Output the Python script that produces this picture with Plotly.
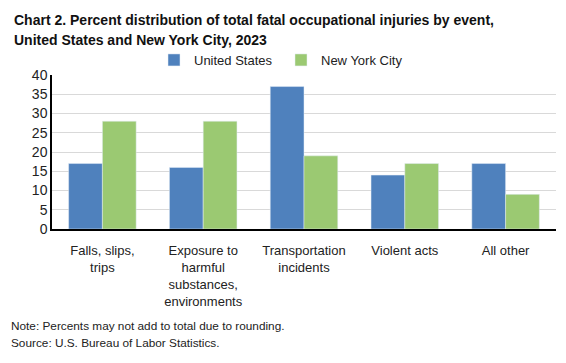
import plotly.graph_objects as go

categories = ["Falls, slips,<br>trips", "Exposure to<br>harmful<br>substances,<br>environments",
              "Transportation<br>incidents", "Violent acts", "All other"]
us_values = [17, 16, 37, 14, 17]
nyc_values = [28, 28, 19, 17, 9]
y_ticks = [0, 5, 10, 15, 20, 25, 30, 35, 40]

FONT = "Liberation Sans"

# page has an 8px body margin; plot area should sit at page x 52..556, y 75..229
def px(x):
    return (x - 52) / 504.0

def py(y):
    return (229 - y) / 154.0

fig = go.Figure()
fig.add_trace(go.Bar(x=categories, y=us_values, name="United States", marker_color="#4f81bd"))
fig.add_trace(go.Bar(x=categories, y=nyc_values, name="New York City", marker_color="#9bc972"))

fig.update_layout(
    width=558, height=355,
    margin=dict(l=44, r=10, t=67, b=134),
    paper_bgcolor="white", plot_bgcolor="white",
    font=dict(family=FONT, size=13, color="#222"),
    barmode="group", bargap=0.33, bargroupgap=0,
    showlegend=True,
    legend=dict(orientation="h", x=px(154), xanchor="left", y=py(60), yanchor="middle",
                font=dict(size=13, color="#222"), itemwidth=30, tracegroupgap=0,
                entrywidth=82),
    xaxis=dict(showline=True, linecolor="black", linewidth=1.5, ticks="",
               tickfont=dict(size=13, color="#222"), fixedrange=True,
               ticklabelstandoff=9),
    yaxis=dict(range=[0, 40], tickvals=y_ticks, showline=True, linecolor="black",
               linewidth=1.5, gridcolor="#d9d9d9", gridwidth=1, ticks="",
               tickfont=dict(size=14, color="#222"), zeroline=False),
)

title_lines = ["<b>Chart 2. Percent distribution of total fatal occupational injuries by event,</b>",
               "<b>United States and New York City, 2023</b>"]
for txt, yy in zip(title_lines, [20, 40]):
    fig.add_annotation(text=txt, xref="paper", yref="paper", x=px(12), y=py(yy),
                       xanchor="left", yanchor="middle", align="left", showarrow=False,
                       font=dict(size=14, color="#111"))

note_lines = ["Note: Percents may not add to total due to rounding.",
              "Source: U.S. Bureau of Labor Statistics."]
for txt, yy in zip(note_lines, [326, 343]):
    fig.add_annotation(text=txt, xref="paper", yref="paper", x=px(9), y=py(yy),
                       xanchor="left", yanchor="middle", align="left", showarrow=False,
                       font=dict(size=11.8, color="#222"))

fig.write_html("out.html")
